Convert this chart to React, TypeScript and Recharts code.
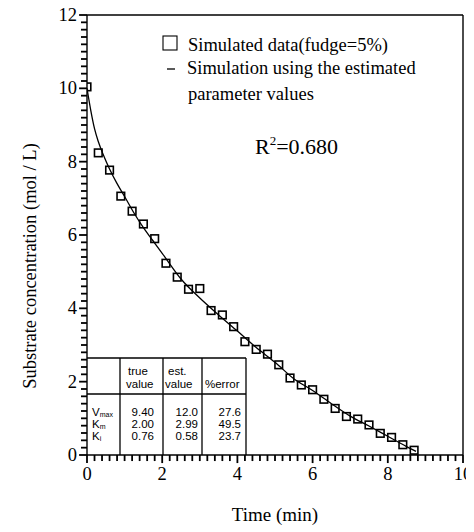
import React from 'react'
import { ComposedChart, Scatter, Line, XAxis, YAxis, ReferenceLine, Customized } from 'recharts'

// simulated data points (fudge = 5%)
const timeMin = [0, 0.3, 0.6, 0.9, 1.2, 1.5, 1.8, 2.1, 2.4, 2.7, 3.0, 3.3, 3.6, 3.9, 4.2, 4.5, 4.8, 5.1, 5.4, 5.7, 6.0, 6.3, 6.6, 6.9, 7.2, 7.5, 7.8, 8.1, 8.4, 8.7]
const simulated = [10.04, 8.24, 7.77, 7.06, 6.65, 6.3, 5.9, 5.23, 4.85, 4.52, 4.54, 3.94, 3.82, 3.5, 3.09, 2.88, 2.75, 2.46, 2.1, 1.91, 1.78, 1.52, 1.27, 1.05, 0.98, 0.82, 0.59, 0.48, 0.28, 0.13]

// curve from the estimated parameters
const fitTime = [0, 0.1, 0.2, 0.3, 0.45, 0.6, 0.8, 1.0, 1.25, 1.5, 1.75, 2.0, 2.5, 3.0, 3.5, 4.0, 4.5, 5.0, 5.5, 6.0, 6.5, 7.0, 7.5, 8.0, 8.5, 8.75]
const fitConc = [10.0, 9.4, 8.9, 8.55, 8.15, 7.8, 7.4, 7.05, 6.6, 6.2, 5.85, 5.5, 4.8, 4.28, 3.82, 3.38, 2.93, 2.53, 2.08, 1.76, 1.4, 1.06, 0.79, 0.51, 0.23, 0.1]

const xMajor = [0, 2, 4, 6, 8, 10]
const yMajor = [0, 2, 4, 6, 8, 10, 12]

// parameter table
const paramNames = [['V', 'max'], ['K', 'm'], ['K', 'i']]
const trueValues = ['9.40', '2.00', '0.76']
const estValues = ['12.0', '2.99', '0.58']
const errValues = ['27.6', '49.5', '23.7']

const scatterData = timeMin.map((t, i) => ({ t, s: simulated[i] }))
const fitData = fitTime.map((t, i) => ({ t, s: fitConc[i] }))

// minor ticks every 0.2
const xMinor = Array.from({ length: 51 }, (_, i) => i / 5)
const yMinor = Array.from({ length: 61 }, (_, i) => i / 5)

const serif = '"Liberation Serif", "DejaVu Serif", serif'
const sans = '"Liberation Sans", Arial, sans-serif'

const isMajor = (v: number, list: number[]) => list.some((m) => Math.abs(m - v) < 1e-6)

// tick marks drawn as short segments below / left of the axes (lengths in axis units, ~6px and ~8px)
const xTickMarks = xMinor.map((v) => (
	<ReferenceLine
		key={'xt' + v}
		segment={[{ x: v, y: 0 }, { x: v, y: isMajor(v, xMajor) ? -0.22 : -0.165 }]}
		stroke="#000"
		strokeWidth={1.8}
		ifOverflow="visible"
	/>
))
const yTickMarks = yMinor.map((v) => (
	<ReferenceLine
		key={'yt' + v}
		segment={[{ x: 0, y: v }, { x: isMajor(v, yMajor) ? -0.21 : -0.16, y: v }]}
		stroke="#000"
		strokeWidth={1.8}
		ifOverflow="visible"
	/>
))

const XTick = ({ x, y, payload }: any) => (
	<text x={x} y={y + 25} textAnchor="middle" fontSize={18.5} fontFamily={serif} fill="#000">
		{payload.value}
	</text>
)

const YTick = ({ x, y, payload }: any) => (
	<text x={x - 10} y={y + 6} textAnchor="end" fontSize={18.5} fontFamily={serif} fill="#000">
		{payload.value}
	</text>
)

const Square = ({ cx, cy }: any) => (
	<rect x={cx - 3.8} y={cy - 3.8} width={7.6} height={7.6} fill="none" stroke="#000" strokeWidth={1.6} />
)

// legend, R², table and axis titles (svg top sits at page y = 6)
const Annotations = () => (
	<g>
		<rect x={155} y={30} width={14} height={14} fill="none" stroke="#000" strokeWidth={1.1} />
		<text x={180} y={45} fontSize={18.5} fontFamily={serif}>Simulated data(fudge=5%)</text>
		<line x1={159} y1={63} x2={167} y2={63} stroke="#000" strokeWidth={1.3} />
		<text x={179} y={68} fontSize={18.5} fontFamily={serif}>Simulation using the estimated</text>
		<text x={180} y={94} fontSize={18.5} fontFamily={serif}>parameter values</text>
		<text x={247} y={148} fontSize={22} fontFamily={serif}>
			R<tspan fontSize={13} dy={-9}>2</tspan><tspan dy={9}>=0.680</tspan>
		</text>

		<g stroke="#000" strokeWidth={1.3}>
			<line x1={79} y1={352} x2={238} y2={352} />
			<line x1={79} y1={388} x2={238} y2={388} />
			<line x1={112} y1={352} x2={112} y2={449} />
			<line x1={155} y1={352} x2={155} y2={449} />
			<line x1={194} y1={352} x2={194} y2={449} />
			<line x1={238} y1={352} x2={238} y2={449} />
		</g>
		<g fontSize={11.5} fontFamily={sans} fill="#000">
			<text x={120} y={369}>true</text>
			<text x={118} y={382}>value</text>
			<text x={160} y={369}>est.</text>
			<text x={157} y={382}>value</text>
			<text x={197} y={382}>%error</text>
			{paramNames.map(([p, sub], i) => (
				<text key={p + sub} x={84} y={410 + i * 12} fill="#000">
					{p}<tspan fontSize={7} dy={1} fill="#000">{sub}</tspan>
				</text>
			))}
			{trueValues.map((v, i) => (
				<text key={'t' + i} x={146} y={410 + i * 12} textAnchor="end">{v}</text>
			))}
			{estValues.map((v, i) => (
				<text key={'e' + i} x={190} y={410 + i * 12} textAnchor="end">{v}</text>
			))}
			{errValues.map((v, i) => (
				<text key={'r' + i} x={233} y={410 + i * 12} textAnchor="end">{v}</text>
			))}
		</g>

		<text x={267} y={515} textAnchor="middle" fontSize={19} fontFamily={serif}>Time (min)</text>
		<text x={22} y={260} textAnchor="middle" fontSize={18.5} fontFamily={serif} transform="rotate(-90 22 260)" dy={6}>
			Substrate concentration (mol / L)
		</text>
	</g>
)

export default function App() {
	return (
		<div style={{ position: 'relative', top: -2 }}>
			<ComposedChart width={466} height={526} margin={{ top: 9, right: 11, left: 0, bottom: 0 }} style={{ background: '#fff' }}>
				<XAxis
					dataKey="t"
					type="number"
					domain={[0, 10]}
					ticks={xMajor}
					interval={0}
					tickSize={0}
					tickMargin={0}
					tickLine={false}
					tick={<XTick />}
					height={77}
					axisLine={{ stroke: '#000', strokeWidth: 1.4 }}
					allowDataOverflow
				/>
				<YAxis
					dataKey="s"
					type="number"
					domain={[0, 12]}
					ticks={yMajor}
					interval={0}
					tickSize={0}
					tickMargin={0}
					tickLine={false}
					tick={<YTick />}
					width={79}
					axisLine={{ stroke: '#000', strokeWidth: 1.4 }}
					allowDataOverflow
				/>
				<ReferenceLine y={12} stroke="#000" strokeWidth={1.4} />
				<ReferenceLine x={10} stroke="#000" strokeWidth={1.4} />
				{xTickMarks}
				{yTickMarks}
				<Line data={fitData} dataKey="s" type="monotone" stroke="#000" strokeWidth={1.3} dot={false} isAnimationActive={false} />
				<Scatter data={scatterData} dataKey="s" shape={<Square />} isAnimationActive={false} />
				<Customized component={<Annotations />} />
			</ComposedChart>
		</div>
	)
}
